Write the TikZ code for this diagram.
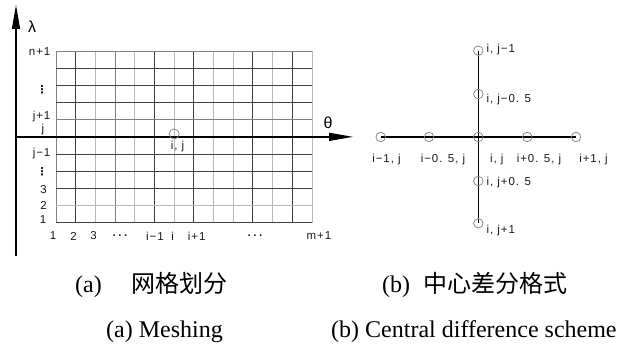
\documentclass[tikz,border=0pt]{standalone}
\usepackage{fontspec}
\setmainfont{Liberation Serif}
\newfontfamily\lblfont[LetterSpace=8]{Liberation Sans}
\newfontfamily\monofont{DejaVu Sans Mono}
\newfontfamily\greekfont{Liberation Sans}
\newfontfamily\vdotsfont{DejaVu Sans}
\newfontfamily\cjk{Noto Sans CJK SC}
\usetikzlibrary{arrows.meta}
\begin{document}
\begin{tikzpicture}[x=1pt,y=-1pt,
  lbl/.style={font=\lblfont\fontsize{11.5}{12}\selectfont, inner sep=0pt, text=black!90},
  hdots/.style={font=\monofont\bfseries\fontsize{9.5}{10}\selectfont, inner sep=0pt, text=black!90},
  vd/.style={font=\vdotsfont\bfseries\fontsize{11}{12}\selectfont, inner sep=0pt, text=black!90},
  axlbl/.style={font=\greekfont\fontsize{16}{18}\selectfont, inner sep=0pt},
  captxt/.style={font=\fontsize{24}{26}\selectfont, inner sep=0pt, anchor=west},
  gD/.style={draw=black!75, line width=0.9pt},
  gM/.style={draw=black!50, line width=0.9pt},
  gL/.style={draw=black!28, line width=0.9pt},
  axisline/.style={draw=black, line width=1.3pt, -{Triangle[length=24pt,width=8pt]}},
  ptc/.style={circle, draw=black!50, line width=0.7pt, minimum size=9.5pt, inner sep=0pt},
  stem/.style={draw=black, line width=1.3pt}
]
\fill[white] (0,0) rectangle (617,345);
\useasboundingbox (0,0) rectangle (617,345);

% ---------- (a) mesh ----------
\foreach \k/\c in {0/gM,1/gD,2/gL,3/gM,4/gL,5/gD,6/gL,7/gD,8/gL,9/gL,10/gD,11/gL,12/gD,13/gL}
  \draw[\c] ({56+\k*19.692},51) -- ({56+\k*19.692},222.7);
\foreach \r/\c in {0/gM,1/gD,2/gD,3/gD,4/gM,6/gD,7/gD,8/gD,9/gL,10/gD}
  \draw[\c] (56,{51+\r*17.17}) -- (312,{51+\r*17.17});

\coordinate (vbot) at (16,256);
\coordinate (vtop) at (16,5);
\coordinate (hleft) at (16,136.85);
\coordinate (hright) at (353,136.85);
\draw[axisline] (vbot) -- (vtop);
\draw[axisline] (hleft) -- (hright);
\node[axlbl] (lam) at (32,27) {λ};
\node[axlbl] (th) at (328,123) {θ};

\node[ptc, minimum size=10pt] (cij) at (174.2,134) {};
\node[lbl] (lij) at (177.5,147) {i, j};

% row labels
\node[lbl, anchor=east] (rn1) at (50.5,51.7) {n+1};
\node[vd] (rv1) at (42,90) {⋮};
\node[lbl, anchor=east] (rj1) at (50.5,116.7) {j+1};
\node[lbl] (rj) at (43,129.5) {j};
\node[lbl, anchor=east] (rjm) at (50.5,154) {j−1};
\node[vd] (rv2) at (42,172) {⋮};
\node[lbl] (r3) at (43.5,190) {3};
\node[lbl] (r2) at (43.5,205) {2};
\node[lbl] (r1) at (43,220) {1};

% column labels
\node[lbl] (c1) at (53,236) {1};
\node[lbl] (c2) at (73.5,236) {2};
\node[lbl] (c3) at (93.5,236) {3};
\node[hdots] (cd1) at (120,236) {...};
\node[lbl] (cim) at (155,236) {i−1};
\node[lbl] (ci) at (172.7,236) {i};
\node[lbl] (cip) at (196.7,236) {i+1};
\node[hdots] (cd2) at (255,236) {...};
\node[lbl] (cm) at (319,236) {m+1};

% ---------- (b) central difference ----------
\coordinate (L2) at (380.7,137);
\coordinate (L1) at (429,137);
\coordinate (C0) at (478.3,137);
\coordinate (R1) at (527.3,137);
\coordinate (R2) at (576,137);
\coordinate (U2) at (478.3,50.7);
\coordinate (U1) at (478.3,94);
\coordinate (D1) at (478.3,181);
\coordinate (D2) at (478.3,223.3);
\draw[stem] (L2) -- (R2);
\draw[stem] (U2) -- (D2);
\foreach \p in {L2,L1,C0,R1,R2,U2,U1,D1,D2}
  \node[ptc] (n\p) at (\p) {};

\node[lbl, anchor=west] (tU2) at (486.5,49.5) {i, j−1};
\node[lbl, anchor=west] (tU1) at (486.5,99.3) {i, j−0. 5};
\node[lbl, anchor=west] (tD1) at (486.5,182.7) {i, j+0. 5};
\node[lbl, anchor=west] (tD2) at (486.5,230.7) {i, j+1};
\node[lbl] (tL2) at (386.5,160) {i−1, j};
\node[lbl] (tL1) at (443,160) {i−0. 5, j};
\node[lbl] (tC0) at (496.7,160) {i, j};
\node[lbl] (tR1) at (539,160) {i+0. 5, j};
\node[lbl] (tR2) at (593.5,160) {i+1, j};

% ---------- captions ----------
\node[captxt] (capa) at (75,285) {(a)\hspace{30pt}{\cjk 网格划分}};
\node[captxt] (capb) at (382,285) {(b)\hspace{13pt}{\cjk 中心差分格式}};
\node[captxt] (capA) at (106,332) {(a) Meshing};
\node[captxt] (capB) at (331,332) {(b) Central difference scheme};
\end{tikzpicture}
\end{document}
